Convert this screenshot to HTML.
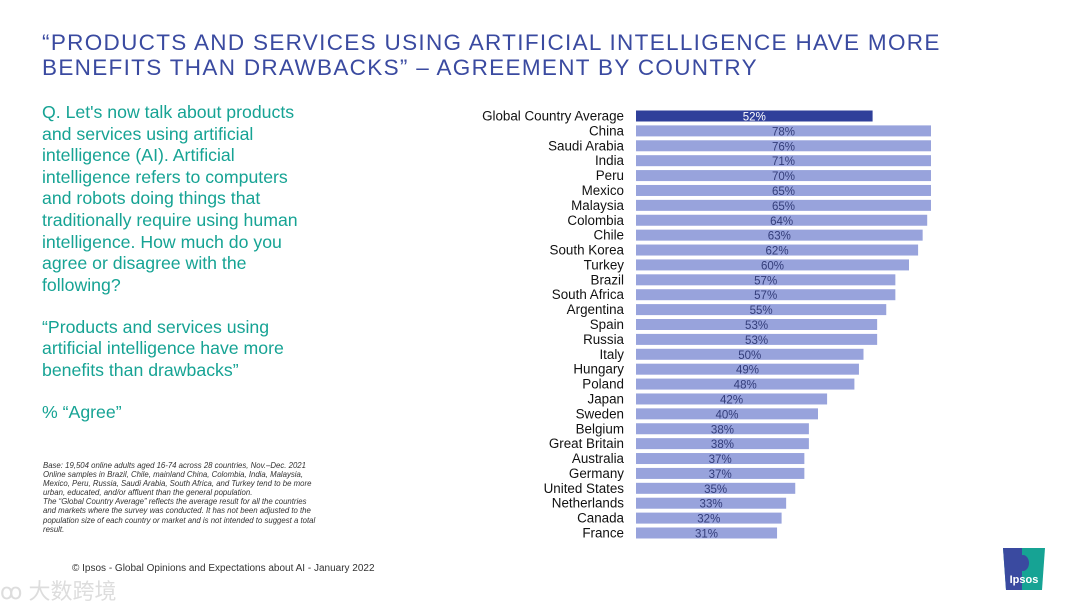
<!DOCTYPE html>
<html><head><meta charset="utf-8">
<style>
body{margin:0;width:1080px;height:608px;background:#fff;overflow:hidden;position:relative;font-family:"Liberation Sans",sans-serif}
#title{position:absolute;left:42px;top:30px;color:#3a4aa0;font-size:22.5px;line-height:25px;letter-spacing:1.32px}
#q{position:absolute;left:42px;top:102px;color:#16a394;font-size:17.7px;line-height:21.6px;white-space:nowrap}
#q p{margin:0 0 20.5px 0}
#base{position:absolute;left:43px;top:461px;font-size:7.8px;line-height:9.1px;font-style:italic;color:#333;white-space:nowrap}
#foot{position:absolute;left:72px;top:563px;font-size:10px;color:#333}
#wm{position:absolute;left:0;top:574px;font-size:22px;color:#ddd;font-family:"Liberation Sans","Noto Sans CJK SC",sans-serif}
svg{position:absolute;left:0;top:0}
</style></head><body>
<div id="title">“PRODUCTS AND SERVICES USING ARTIFICIAL INTELLIGENCE HAVE MORE<br>BENEFITS THAN DRAWBACKS” – AGREEMENT BY COUNTRY</div>
<div id="q"><p>Q. Let's now talk about products<br>and services using artificial<br>intelligence (AI). Artificial<br>intelligence refers to computers<br>and robots doing things that<br>traditionally require using human<br>intelligence. How much do you<br>agree or disagree with the<br>following?</p><p>“Products and services using<br>artificial intelligence have more<br>benefits than drawbacks”</p><p>% “Agree”</p></div>
<div id="base">Base: 19,504 online adults aged 16-74 across 28 countries, Nov.–Dec. 2021<br>Online samples in Brazil, Chile, mainland China, Colombia, India, Malaysia,<br>Mexico, Peru, Russia, Saudi Arabia, South Africa, and Turkey tend to be more<br>urban, educated, and/or affluent than the general population.<br>The “Global Country Average” reflects the average result for all the countries<br>and markets where the survey was conducted. It has not been adjusted to the<br>population size of each country or market and is not intended to suggest a total<br>result.</div>
<div id="foot">© Ipsos - Global Opinions and Expectations about AI - January 2022</div>
<div id="wm">ꝏ 大数跨境</div>
<svg width="1080" height="608" id="chart">
<g>
<path d="M1003 548 H1045 L1042 590 H1006 Z" fill="#16a394"/>
<path d="M1003 548 H1022 V590 H1006 Z" fill="#3a4aa0"/>
<ellipse cx="1023" cy="563" rx="6" ry="8" fill="#3a4aa0"/>
<text x="1024" y="583" font-size="11" font-weight="bold" fill="#fff" text-anchor="middle">Ipsos</text>
</g>
</svg>
<script>
const categories=["Global Country Average","China","Saudi Arabia","India","Peru","Mexico","Malaysia","Colombia","Chile","South Korea","Turkey","Brazil","South Africa","Argentina","Spain","Russia","Italy","Hungary","Poland","Japan","Sweden","Belgium","Great Britain","Australia","Germany","United States","Netherlands","Canada","France"];
const values=[52,78,76,71,70,65,65,64,63,62,60,57,57,55,53,53,50,49,48,42,40,38,38,37,37,35,33,32,31];
const svg=document.getElementById('chart');
const NS='http://www.w3.org/2000/svg';
const x0=636,pxPer=4.55,xMax=931;
const xs=v=>Math.min(x0+v*pxPer,xMax);
const ys=i=>116+i*(533-116)/(categories.length-1);
categories.forEach((c,i)=>{
  const y=ys(i),v=values[i],x1=xs(v);
  const r=document.createElementNS(NS,'rect');
  r.setAttribute('x',x0);r.setAttribute('y',y-5.5);r.setAttribute('width',x1-x0);r.setAttribute('height',11);
  r.setAttribute('fill',i===0?'#2f3f9a':'#98a3dc');
  
  
  svg.appendChild(r);
  const t=document.createElementNS(NS,'text');
  t.setAttribute('x',624);t.setAttribute('y',y+4.5);t.setAttribute('text-anchor','end');t.setAttribute('font-size','13.4');t.setAttribute('fill','#111');
  t.textContent=c;
  
  
  svg.appendChild(t);
  const l=document.createElementNS(NS,'text');
  l.setAttribute('x',(x0+x1)/2);l.setAttribute('y',y+4.5);l.setAttribute('text-anchor','middle');l.setAttribute('font-size','11.5');l.setAttribute('fill',i===0?'#fff':'#333d7a');
  l.textContent=v+'%';
  
  
  svg.appendChild(l);
});
</script>
</body></html>
